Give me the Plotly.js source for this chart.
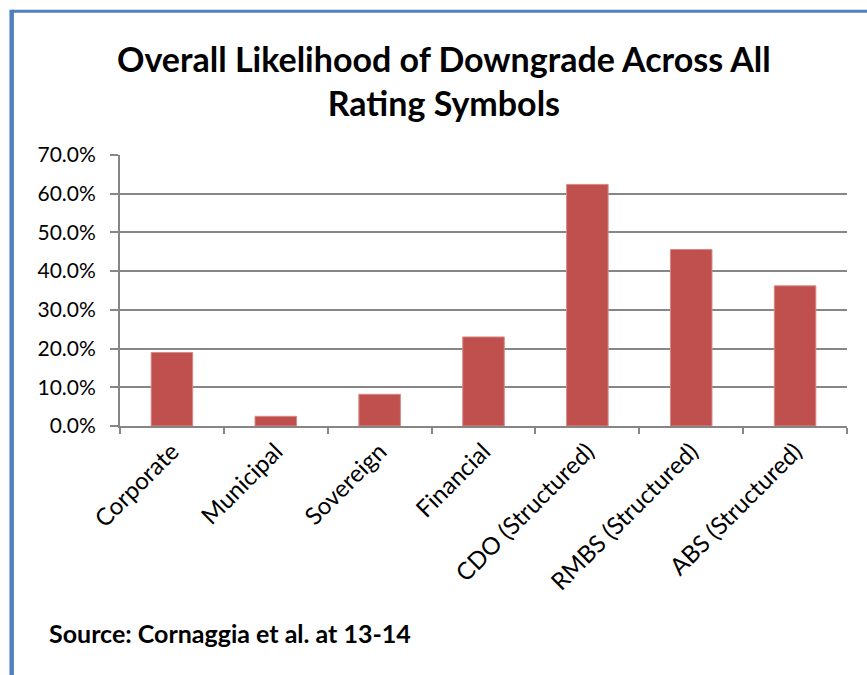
<!DOCTYPE html>
<html>
<head>
<meta charset="utf-8">
<script src="https://cdn.plot.ly/plotly-3.0.1.min.js"></script>
<style>
html,body{margin:0;padding:0;background:#fff;}
#chart{width:867px;height:675px;}
</style>
</head>
<body>
<div id="chart"></div>
<script>
const categories = ["Corporate", "Municipal", "Sovereign", "Financial", "CDO (Structured)", "RMBS (Structured)", "ABS (Structured)"];
const downgradeLikelihood = [0.190, 0.025, 0.082, 0.230, 0.624, 0.456, 0.362];
const yTickValues = [0, 0.1, 0.2, 0.3, 0.4, 0.5, 0.6, 0.7];
const titleText = "Overall Likelihood of Downgrade Across All<br>Rating Symbols";
const sourceText = "Source: Cornaggia et al. at 13-14";

const font = "Lato, 'Open Sans', sans-serif";

const trace = {
  type: "bar",
  x: categories,
  y: downgradeLikelihood,
  marker: {color: "#c0504d", line: {color: "#d98987", width: 1}},
  hoverinfo: "x+y"
};

const layout = {
  width: 867,
  height: 675,
  paper_bgcolor: "#ffffff",
  plot_bgcolor: "#ffffff",
  margin: {l: 120, r: 20, t: 155, b: 249},
  bargap: 0.6,
  showlegend: false,
  font: {family: font, color: "#000"},
  title: {
    text: "<b>" + titleText + "</b>",
    font: {family: font, size: 34, color: "#000"},
    x: 0.512, xanchor: "center", xref: "container",
    y: 0.893, yanchor: "middle", yref: "container"
  },
  xaxis: {
    type: "category",
    tickangle: -45,
    tickson: "boundaries",
    ticks: "outside",
    ticklen: 6,
    tickcolor: "#868686",
    tickwidth: 2,
    showline: true,
    linecolor: "#868686",
    linewidth: 2,
    showgrid: false,
    tickfont: {family: font, size: 24, color: "#000"},
    fixedrange: true
  },
  yaxis: {
    range: [0, 0.7],
    tickvals: yTickValues,
    tickformat: ".1%",
    ticks: "outside",
    ticklen: 8,
    tickcolor: "#868686",
    tickwidth: 2,
    ticklabelstandoff: 10,
    showline: true,
    linecolor: "#868686",
    linewidth: 2,
    showgrid: true,
    gridcolor: "#868686",
    gridwidth: 2,
    zeroline: false,
    tickfont: {family: font, size: 21, color: "#000"},
    fixedrange: true
  },
  shapes: [
    {type: "line", xref: "paper", yref: "paper", x0: -0.149, x1: 1.03, y0: 1.530, y1: 1.530,
     line: {color: "#4f81bd", width: 3}},
    {type: "line", xref: "paper", yref: "paper", x0: -0.149, x1: -0.149, y0: 1.536, y1: -0.93,
     line: {color: "#4f81bd", width: 4.5}}
  ],
  annotations: [
    {text: "<b>" + sourceText + "</b>", xref: "paper", yref: "paper",
     x: -0.1004, y: -0.765, xanchor: "left", yanchor: "middle", showarrow: false,
     font: {family: font, size: 25, color: "#000"}}
  ]
};

Plotly.newPlot("chart", [trace], layout, {displayModeBar: false, staticPlot: true});
</script>
</body>
</html>
